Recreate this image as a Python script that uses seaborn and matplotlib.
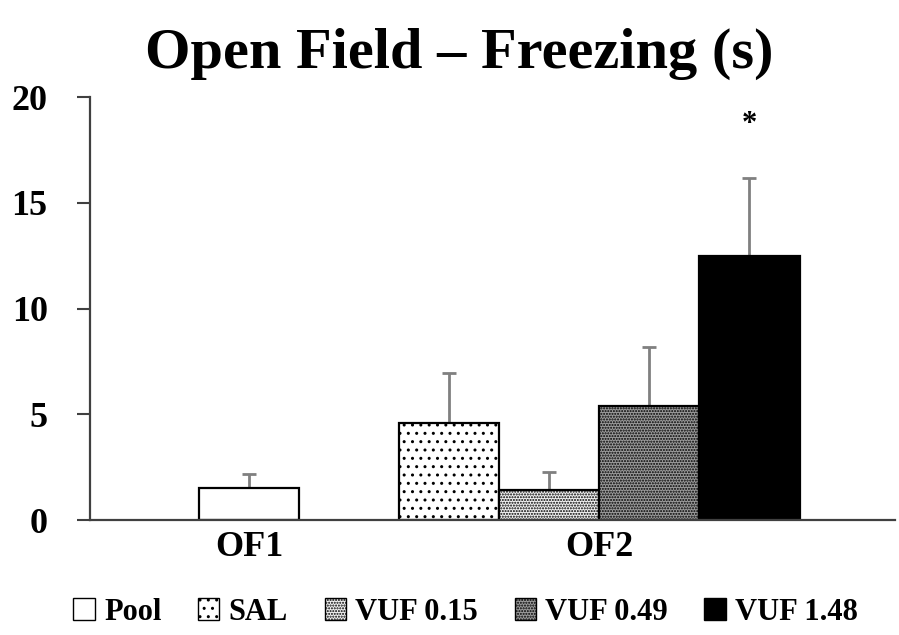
import matplotlib
matplotlib.use("Agg")
import matplotlib.pyplot as plt
from matplotlib.patches import Patch
import seaborn as sns
import pandas as pd

# ---- data ----
conditions = ["OF1", "OF2", "OF2", "OF2", "OF2"]
groups = ["Pool", "SAL", "VUF 0.15", "VUF 0.49", "VUF 1.48"]
means = [1.5, 4.6, 1.4, 5.4, 12.5]
sems = [0.7, 2.35, 0.85, 2.8, 3.7]
yticks = [0, 5, 10, 15, 20]
title = "Open Field \u2013 Freezing (s)"
signif_group = "VUF 1.48"
signif_label = "*"

# ---- layout / style ----
bar_slots = [0, 2, 3, 4, 5]          # slot 1 left empty between the two conditions
cond_ticks = {"OF1": 0, "OF2": 3.5}
faces = {"Pool": "white", "SAL": "white", "VUF 0.15": "#f2f2f2",
         "VUF 0.49": "#9c9c9c", "VUF 1.48": "black"}
hatches = {"Pool": "", "SAL": "..", "VUF 0.15": "......",
           "VUF 0.49": "......", "VUF 1.48": ""}

sns.set_style("white")
plt.rcParams["font.family"] = ["Liberation Serif", "DejaVu Serif"]
plt.rcParams["font.weight"] = "bold"
plt.rcParams["text.color"] = "black"
plt.rcParams["xtick.color"] = "black"
plt.rcParams["ytick.color"] = "black"
plt.rcParams["xtick.labelcolor"] = "black"
plt.rcParams["ytick.labelcolor"] = "black"
plt.rcParams["hatch.linewidth"] = 1.0

df = pd.DataFrame({"cond": conditions, "group": groups, "mean": means,
                   "sem": sems, "slot": bar_slots})

fig = plt.figure(figsize=(8.99, 6.35), dpi=100)
ax = fig.add_axes([0.1001, 0.181, 0.8955, 0.666])

sns.barplot(data=df, x="slot", y="mean", hue="group", hue_order=groups,
            palette=faces, native_scale=True, dodge=False, width=1.0,
            errorbar=None, edgecolor="black", linewidth=1.6, legend=False,
            saturation=1, ax=ax)

slot_to_group = dict(zip(df["slot"], df["group"]))
for p in ax.patches:
    cx = p.get_x() + p.get_width() / 2
    g = slot_to_group.get(round(cx))
    if g is None:
        continue
    p.set_facecolor(faces[g])
    p.set_hatch(hatches[g])
    p.set_edgecolor("black")

ax.errorbar(df["slot"], df["mean"], yerr=[[0] * len(df), df["sem"]],
            fmt="none", ecolor="#808080", elinewidth=2.0, capsize=4.7,
            capthick=2.0, zorder=1)
for p in ax.patches:
    p.set_zorder(2)

sig = df[df["group"] == signif_group].iloc[0]
ax.text(sig["slot"], sig["mean"] + sig["sem"] + 2.5, signif_label,
        ha="center", va="center", fontsize=22, fontweight="bold",
        color="black")

ax.set_xlim(-1.588, 6.454)
ax.set_ylim(0, 20)
ax.set_yticks(yticks)
ax.set_yticklabels([str(t) for t in yticks], fontsize=26, fontweight="bold",
                   color="black")
ax.set_xticks(list(cond_ticks.values()))
ax.set_xticklabels(list(cond_ticks.keys()), fontsize=26, fontweight="bold",
                   color="black")
ax.tick_params(axis="y", length=9.5, width=1.5, color="#404040", pad=21,
               direction="out", left=True)
ax.tick_params(axis="x", length=0, pad=8)
ax.set_xlabel("")
ax.set_ylabel("")
for s in ["top", "right"]:
    ax.spines[s].set_visible(False)
for s in ["left", "bottom"]:
    ax.spines[s].set_color("#404040")
    ax.spines[s].set_linewidth(1.6)

fig.text(0.5106, 0.893, title, ha="center", va="baseline",
         fontsize=42, fontweight="bold", color="black")

handles = [Patch(facecolor=faces[g], hatch=hatches[g], edgecolor="black",
                 linewidth=1.0) for g in groups]
leg = fig.legend(handles, groups, loc="center", bbox_to_anchor=(0.518, 0.036),
                 ncol=5, frameon=False, prop={"size": 22, "weight": "bold"},
                 handlelength=0.7, handleheight=0.7, handletextpad=0.3,
                 columnspacing=1.2, borderaxespad=0)
for t in leg.get_texts():
    t.set_color("black")

fig.savefig("out.png", dpi=100)
